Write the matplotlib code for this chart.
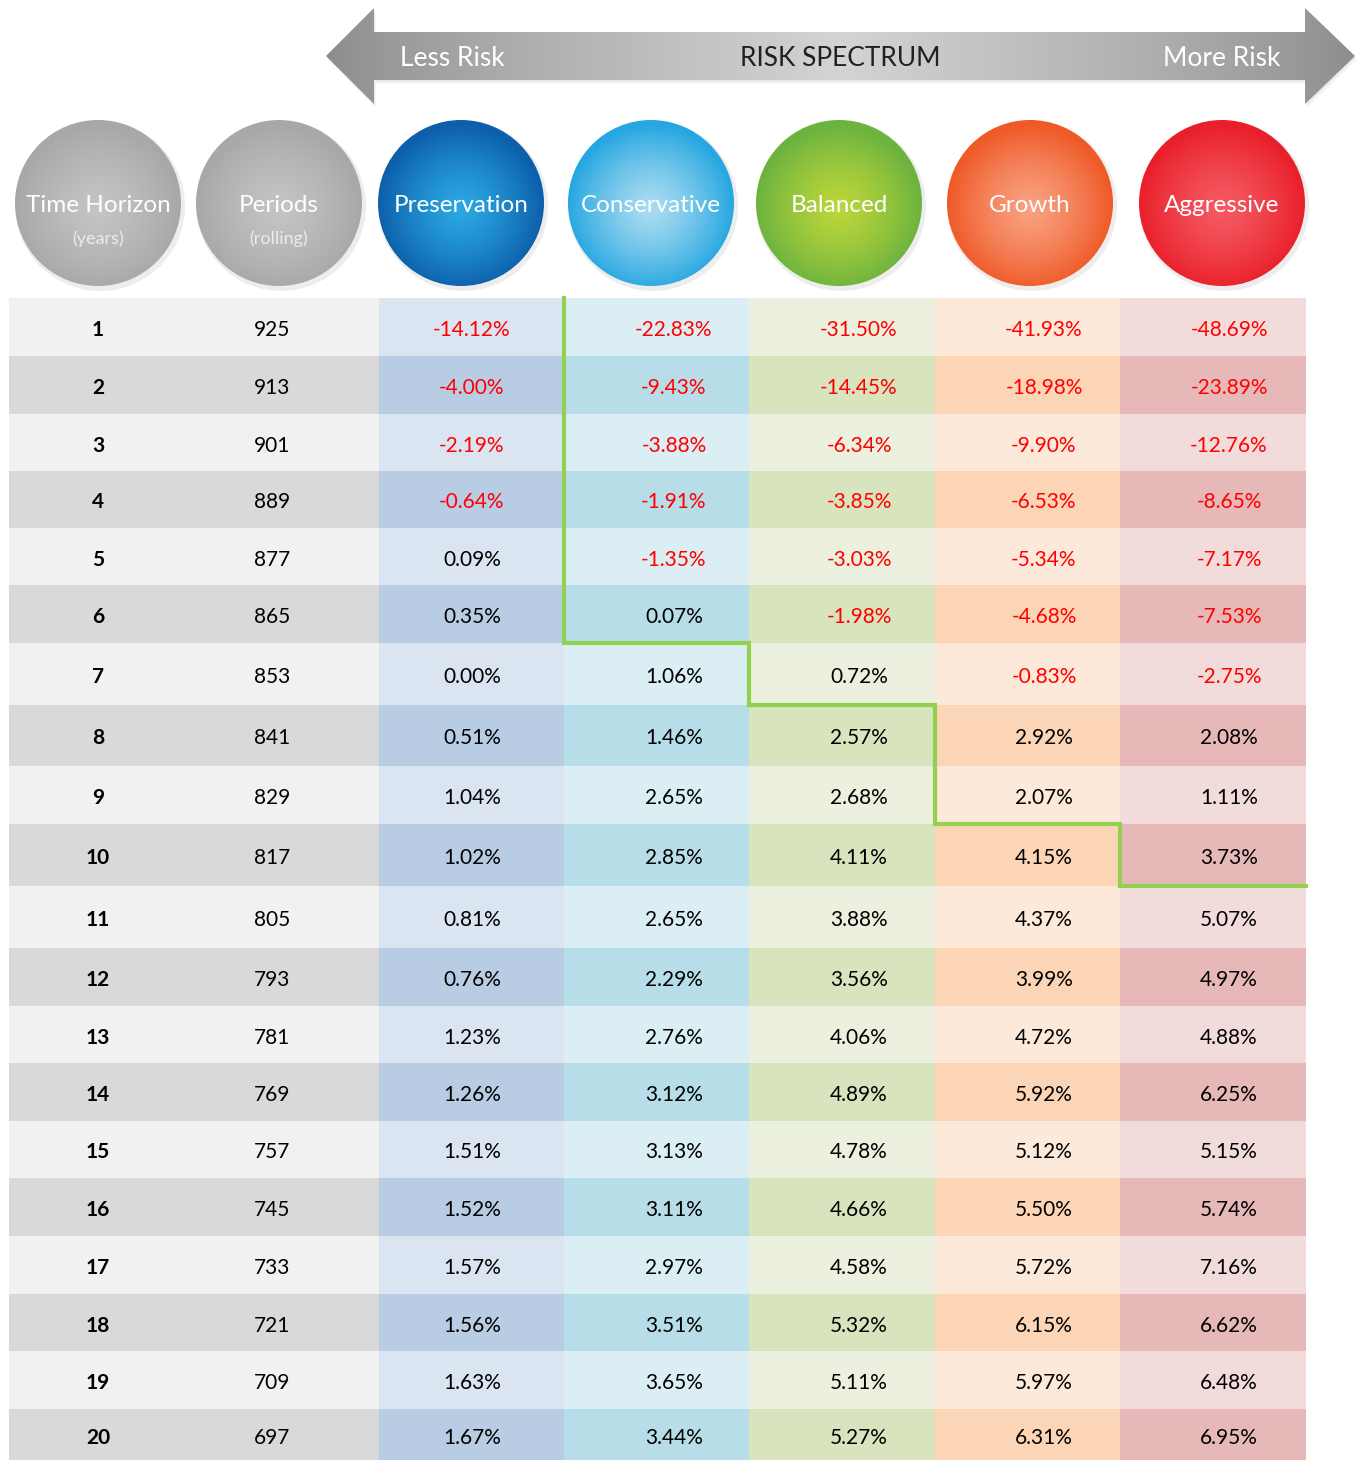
import matplotlib
matplotlib.use("Agg")
import matplotlib.pyplot as plt
import numpy as np
from matplotlib.patches import Rectangle, Circle, Polygon
from matplotlib.colors import to_rgb

plt.rcParams['font.family'] = ['Lato', 'DejaVu Sans']

# data
years = [str(i) for i in range(1, 21)]
periods = [925, 913, 901, 889, 877, 865, 853, 841, 829, 817,
           805, 793, 781, 769, 757, 745, 733, 721, 709, 697]
preservation = [-14.12, -4.00, -2.19, -0.64, 0.09, 0.35, 0.00, 0.51, 1.04, 1.02,
                0.81, 0.76, 1.23, 1.26, 1.51, 1.52, 1.57, 1.56, 1.63, 1.67]
conservative = [-22.83, -9.43, -3.88, -1.91, -1.35, 0.07, 1.06, 1.46, 2.65, 2.85,
                2.65, 2.29, 2.76, 3.12, 3.13, 3.11, 2.97, 3.51, 3.65, 3.44]
balanced = [-31.50, -14.45, -6.34, -3.85, -3.03, -1.98, 0.72, 2.57, 2.68, 4.11,
            3.88, 3.56, 4.06, 4.89, 4.78, 4.66, 4.58, 5.32, 5.11, 5.27]
growth = [-41.93, -18.98, -9.90, -6.53, -5.34, -4.68, -0.83, 2.92, 2.07, 4.15,
          4.37, 3.99, 4.72, 5.92, 5.12, 5.50, 5.72, 6.15, 5.97, 6.31]
aggressive = [-48.69, -23.89, -12.76, -8.65, -7.17, -7.53, -2.75, 2.08, 1.11, 3.73,
              5.07, 4.97, 4.88, 6.25, 5.15, 5.74, 7.16, 6.62, 6.48, 6.95]
portfolios = ['Preservation', 'Conservative', 'Balanced', 'Growth', 'Aggressive']
# green line: rows above it for Conservative, Balanced, Growth, Aggressive
stair_rows = [6, 7, 9, 10]

series = [preservation, conservative, balanced, growth, aggressive]

# layout (pixels)
W, H = 1362, 1460
row_edges = [298, 356, 414, 471, 528, 585, 643, 705, 766, 824, 886,
             948, 1006, 1063, 1121, 1178, 1236, 1294, 1351, 1409, 1460]
col_edges = [9, 190, 379, 564, 749, 935, 1120, 1306]
col_text_x = [98, 272, 472, 674, 859, 1044, 1229]
circle_x = [98, 279, 461, 651, 839, 1030, 1222]
circle_y = 203
circle_r = 83

light = ['#f1f1f1', '#f1f1f1', '#dbe5f1', '#dbeef4', '#ebf1de', '#fde9d9', '#f2dcdb']
dark = ['#d9d9d9', '#d9d9d9', '#b8cce4', '#b7dde8', '#d7e4bd', '#fbd5b5', '#e6b9b8']
circ_center = ['#c4c4c4', '#c4c4c4', '#2aa8e2', '#a9dcf1', '#bcd63a', '#f9a181', '#f55a62']
circ_edge = ['#a8a8a8', '#a8a8a8', '#0d5fab', '#27a7e1', '#6cb33f', '#ef5a27', '#e9202b']

fig = plt.figure(figsize=(W / 100, H / 100), dpi=100)
ax = fig.add_axes([0, 0, 1, 1])
ax.set_xlim(0, W)
ax.set_ylim(H, 0)
ax.axis('off')


def radial(cx, cy, r, c0, c1, clip):
    n = 200
    xs = np.linspace(cx - r, cx + r, n)
    ys = np.linspace(cy - r, cy + r, n)
    X, Y = np.meshgrid(xs, ys)
    d = np.sqrt((X - cx) ** 2 + (Y - (cy + 5)) ** 2) / r
    t = np.clip(d, 0, 1)[..., None] ** 1.3
    img = np.array(to_rgb(c0)) * (1 - t) + np.array(to_rgb(c1)) * t
    im = ax.imshow(img, extent=(cx - r, cx + r, cy + r, cy - r), zorder=3,
                   interpolation='bilinear')
    im.set_clip_path(clip)


# arrow
pts = [(326, 56), (374, 8), (374, 32), (1305, 32), (1305, 8), (1355, 56),
       (1305, 104), (1305, 80), (374, 80), (374, 104)]
for off, a in [(2, 0.05), (4, 0.03)]:
    ax.add_patch(Polygon([(x + off / 2, y + off) for x, y in pts], closed=True, fc='#000000',
                         alpha=a, ec='none', zorder=1))
arrow = Polygon(pts, closed=True, fc='none', ec='none', zorder=2)
ax.add_patch(arrow)
gx = np.linspace(0, 1, 400)
g = 1 - np.abs(gx - 0.5) * 2
g = 0.55 + 0.28 * g ** 0.8
grad = np.tile(g, (50, 1))
grad = np.dstack([grad, grad, grad])
im = ax.imshow(grad, extent=(326, 1355, 104, 8), zorder=2, aspect='auto')
im.set_clip_path(arrow)
ax.text(452, 58, 'Less Risk', color='white', fontsize=19, ha='center', va='center', zorder=4)
ax.text(840, 58, 'RISK SPECTRUM', color='#231f20', fontsize=19, ha='center', va='center', zorder=4)
ax.text(1222, 58, 'More Risk', color='white', fontsize=19, ha='center', va='center', zorder=4)

# circles
heads = [('Time Horizon', '(years)'), ('Periods', '(rolling)')] + [(p, None) for p in portfolios]
for i, (cx, (main, sub)) in enumerate(zip(circle_x, heads)):
    ax.add_patch(Circle((cx + 2, circle_y + 3), circle_r + 2, fc='black', alpha=0.07, ec='none', zorder=2))
    c = Circle((cx, circle_y), circle_r, fc='none', ec='none', zorder=3)
    ax.add_patch(c)
    radial(cx, circle_y, circle_r, circ_center[i], circ_edge[i], c)
    ax.text(cx, circle_y + 3, main, color='white', fontsize=17.5, ha='center', va='center', zorder=4)
    if sub:
        ax.text(cx, circle_y + 36, sub, color='#ececec', fontsize=13, ha='center', va='center', zorder=4)

# table
for r in range(len(years)):
    y0, y1 = row_edges[r], row_edges[r + 1]
    yc = (y0 + y1) / 2 + 3
    for c in range(7):
        fc = light[c] if r % 2 == 0 else dark[c]
        ax.add_patch(Rectangle((col_edges[c], y0), col_edges[c + 1] - col_edges[c], y1 - y0,
                               fc=fc, ec='none', zorder=1))
    ax.text(col_text_x[0], yc, years[r], fontsize=15, fontweight='bold', ha='center', va='center', zorder=4)
    ax.text(col_text_x[1], yc, str(periods[r]), fontsize=15, ha='center', va='center', zorder=4)
    for k, s in enumerate(series):
        v = s[r]
        ax.text(col_text_x[k + 2], yc, f'{v:.2f}%', fontsize=15, ha='center', va='center',
                color='#ff0000' if v < 0 else 'black', zorder=4)

# green staircase line
sx, sy = [col_edges[3]], [row_edges[0]]
for k, n in enumerate(stair_rows):
    sx += [col_edges[3 + k], col_edges[4 + k]]
    sy += [row_edges[n], row_edges[n]]
ax.plot(sx, sy, color='#92d050', lw=3, zorder=5, solid_joinstyle='miter')

fig.savefig('out.png', dpi=100)
